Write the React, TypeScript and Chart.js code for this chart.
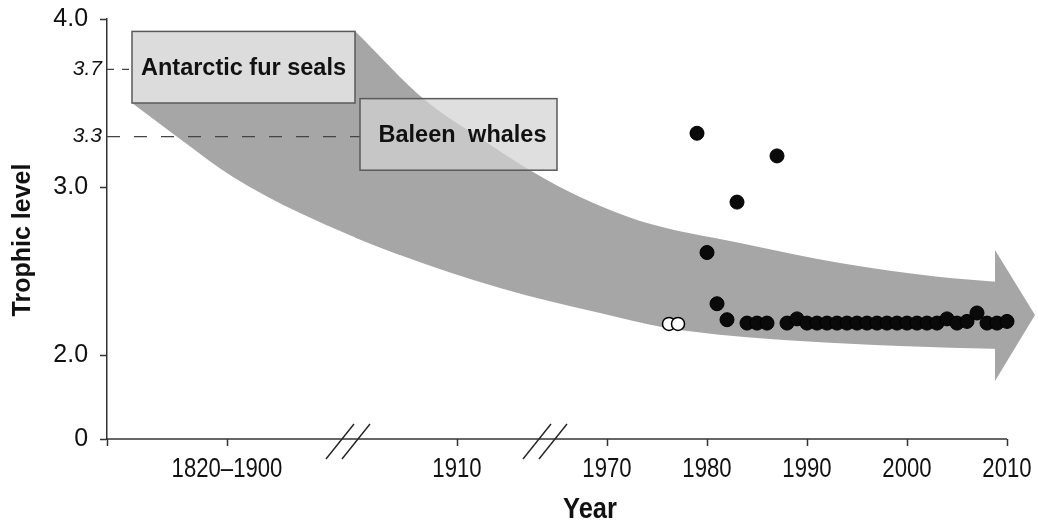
import React, { useEffect, useRef } from "react";
import { Chart, registerables } from "chart.js";

Chart.register(...registerables);

// ---------- data ----------
const filledYears = [
  1979, 1980, 1981, 1982, 1983, 1984, 1985, 1986, 1987, 1988, 1989,
  1990, 1991, 1992, 1993, 1994, 1995, 1996, 1997, 1998, 1999,
  2000, 2001, 2002, 2003, 2004, 2005, 2006, 2007, 2008, 2009, 2010,
];
const filledTrophic = [
  3.32, 2.61, 2.305, 2.21, 2.91, 2.19, 2.19, 2.19, 3.185, 2.19, 2.215,
  2.19, 2.19, 2.19, 2.19, 2.19, 2.19, 2.19, 2.19, 2.19, 2.19,
  2.19, 2.19, 2.19, 2.19, 2.215, 2.19, 2.2, 2.25, 2.19, 2.19, 2.2,
];
const openYears = [1976.2, 1977.1];
const openTrophic = [2.185, 2.185];

// axis (x in compressed "display years"; y below 2.0 is compressed)
const xTickValues = [1920, 1932, 1955, 1970, 1980, 1990, 2000, 2010];
const xTickLabels = ["", "1820–1900", "1910", "1970", "1980", "1990", "2000", "2010"];
const xBreakValues = [1944.1, 1963.8];
const yTickValues = [1.5, 2, 3, 3.3, 3.7, 4];
const yTickLabels = ["0", "2.0", "3.0", "3.3", "3.7", "4.0"];
const yItalicLevels = [3.3, 3.7];

// groups (labelled boxes)
const groupNames = ["Antarctic fur seals", "Baleen whales"];
const groupLevels = [3.7, 3.3];

// shaded arrow outline
const arrowUpperX = [1944.8, 1951.8, 1957.3, 1962.6, 1967.3, 1973.3, 1983.3, 1993.3, 2003.3, 2009.5];
const arrowUpperY = [3.929, 3.518, 3.292, 3.089, 2.94, 2.798, 2.667, 2.548, 2.464, 2.433];
const arrowLowerX = [1922.5, 1927.3, 1932.6, 1939.3, 1949.3, 1959.3, 1969.3, 1976.0, 1989.3, 1999.3, 2009.5];
const arrowLowerY = [3.5, 3.286, 3.06, 2.845, 2.595, 2.399, 2.25, 2.161, 2.083, 2.054, 2.036];
const arrowBackX = [1922.5, 1949.3];
const arrowBackY = [3.55, 3.55];
const arrowHeadX = [2008.8, 2012.8];
const arrowHeadTopY = [2.625, 2.238];
const arrowHeadBottomY = [1.845, 2.238];

// ---------- layout / style (not data) ----------
const boxLayout = [
  { from: 1922.5, to: 1944.8, fill: "#dcdcdc" },
  { from: 1945.3, to: 1965.0, fill: "rgba(210,210,210,0.72)" },
];
const FONT = '"Liberation Sans", Arial, Helvetica, sans-serif';
const ARROW = "#a6a6a6";
const AXIS = "#333333";
const NARROW_SCALE = 0.82;

const pts = (xs: number[], ys: number[]) => xs.map((x, i) => ({ x, y: ys[i] }));
const isItalic = (v: number) => yItalicLevels.some((l) => Math.abs(l - v) < 1e-6);

const decorPlugin = {
  id: "decor",
  afterDatasetsDraw(chart: any) {
    const { ctx, scales } = chart;
    const x = scales.x;
    const y = scales.y;
    ctx.save();
    groupNames.forEach((name, i) => {
      const b = boxLayout[i];
      const l = x.getPixelForValue(b.from);
      const r = x.getPixelForValue(b.to);
      const t = y.getPixelForValue(groupLevels[i] + 0.226);
      const btm = y.getPixelForValue(groupLevels[i] - 0.2);
      ctx.fillStyle = b.fill;
      ctx.fillRect(l, t, r - l, btm - t);
      ctx.strokeStyle = "#5a5a5a";
      ctx.lineWidth = 1.5;
      ctx.strokeRect(l, t, r - l, btm - t);
      ctx.fillStyle = "#111";
      ctx.font = `bold 23.5px ${FONT}`;
      ctx.textAlign = "center";
      ctx.textBaseline = "middle";
      try {
        (ctx as any).wordSpacing = i === 1 ? "6px" : "0px";
      } catch (e) {}
      ctx.fillText(name, (l + r) / 2 + (i === 1 ? 4 : 0), (t + btm) / 2 + 1);
      try {
        (ctx as any).wordSpacing = "0px";
      } catch (e) {}
    });
    ctx.restore();
  },
  afterDraw(chart: any) {
    const { ctx, scales } = chart;
    const x = scales.x;
    const y = scales.y;
    const cy = y.getPixelForValue(1.5);
    ctx.save();
    // axis breaks
    ctx.strokeStyle = "#222";
    ctx.lineWidth = 1.4;
    xBreakValues.forEach((v) => {
      const cx = x.getPixelForValue(v);
      [-8, 8].forEach((o) => {
        ctx.beginPath();
        ctx.moveTo(cx + o - 14, cy + 20);
        ctx.lineTo(cx + o + 14, cy - 15);
        ctx.stroke();
      });
    });
    // x tick labels (narrow face imitated by horizontal scaling)
    ctx.fillStyle = "#111";
    ctx.textAlign = "center";
    ctx.textBaseline = "middle";
    xTickValues.forEach((v, i) => {
      const label = xTickLabels[i];
      if (!label) return;
      ctx.save();
      ctx.translate(x.getPixelForValue(v), cy + 31);
      ctx.scale(NARROW_SCALE, 1);
      ctx.font = `27px ${FONT}`;
      ctx.fillText(label, 0, 0);
      ctx.restore();
    });
    // axis titles
    ctx.save();
    ctx.translate(590, 510);
    ctx.scale(0.85, 1);
    ctx.font = `bold 30px ${FONT}`;
    ctx.fillText("Year", 0, 0);
    ctx.restore();
    ctx.translate(23, 240);
    ctx.rotate(-Math.PI / 2);
    ctx.font = `bold 25px ${FONT}`;
    ctx.fillText("Trophic level", 0, 0);
    ctx.restore();
  },
};

export default function App() {
  const ref = useRef<HTMLCanvasElement>(null);
  useEffect(() => {
    if (!ref.current) return;
    const hidden = { pointRadius: 0, borderWidth: 1, borderColor: "rgba(0,0,0,0)", backgroundColor: ARROW };
    const chart = new Chart(ref.current, {
      type: "line",
      data: {
        datasets: [
          {
            label: "filled",
            data: pts(filledYears, filledTrophic),
            showLine: false,
            pointRadius: 7,
            pointBackgroundColor: "#0a0a0a",
            pointBorderColor: "#000",
            pointBorderWidth: 1,
          },
          {
            label: "open",
            data: pts(openYears, openTrophic),
            showLine: false,
            pointRadius: 6.5,
            pointBackgroundColor: "#ffffff",
            pointBorderColor: "#000",
            pointBorderWidth: 1.5,
          },
          {
            label: "dash37",
            data: [
              { x: 1920, y: groupLevels[0] },
              { x: boxLayout[0].from, y: groupLevels[0] },
            ],
            borderColor: "#444",
            borderWidth: 1.2,
            borderDash: [7, 8],
            pointRadius: 0,
            fill: false,
          },
          {
            label: "dash33",
            data: [
              { x: 1920, y: groupLevels[1] },
              { x: boxLayout[1].from, y: groupLevels[1] },
            ],
            borderColor: "#444",
            borderWidth: 1.2,
            borderDash: [13, 14],
            pointRadius: 0,
            fill: false,
          },
          {
            label: "xaxis",
            data: [
              { x: 1920, y: 1.5 },
              { x: 2010, y: 1.5 },
            ],
            borderColor: AXIS,
            borderWidth: 1.5,
            pointRadius: 0,
            fill: false,
            clip: false,
          } as any,
          {
            label: "arrowUpper",
            data: pts(arrowUpperX, arrowUpperY),
            cubicInterpolationMode: "monotone",
            fill: "+1",
            ...hidden,
          },
          {
            label: "arrowLower",
            data: pts(arrowLowerX, arrowLowerY),
            cubicInterpolationMode: "monotone",
            fill: false,
            ...hidden,
          },
          {
            label: "arrowBack",
            data: pts(arrowBackX, arrowBackY),
            tension: 0,
            fill: "-1",
            ...hidden,
          },
          {
            label: "headTop",
            data: pts(arrowHeadX, arrowHeadTopY),
            tension: 0,
            fill: "+1",
            ...hidden,
          },
          {
            label: "headBottom",
            data: pts(arrowHeadX, arrowHeadBottomY),
            tension: 0,
            fill: false,
            ...hidden,
          },
        ],
      },
      options: {
        animation: false,
        responsive: false,
        events: [],
        layout: { autoPadding: false, padding: { top: 19, right: 1, left: 0, bottom: 0 } },
        plugins: { legend: { display: false }, tooltip: { enabled: false } },
        scales: {
          x: {
            type: "linear",
            min: 1920,
            max: 2013,
            afterBuildTicks: (s: any) => {
              s.ticks = xTickValues.map((v) => ({ value: v }));
            },
            afterFit: (s: any) => {
              s.height = 85;
            },
            border: { display: false },
            grid: {
              drawOnChartArea: false,
              drawTicks: true,
              tickLength: 7,
              tickWidth: 1.5,
              tickColor: AXIS,
            },
            ticks: { display: false, autoSkip: false, maxRotation: 0 },
          },
          y: {
            type: "linear",
            min: 1.5,
            max: 4,
            afterBuildTicks: (s: any) => {
              s.ticks = yTickValues.map((v) => ({ value: v }));
            },
            afterFit: (s: any) => {
              s.width = 107;
            },
            border: { display: true, color: AXIS, width: 1.5 },
            grid: {
              drawOnChartArea: false,
              drawTicks: true,
              tickLength: 7,
              tickWidth: 1.5,
              tickColor: (c: any) => (c.tick && isItalic(c.tick.value) ? "rgba(0,0,0,0)" : AXIS),
            },
            ticks: {
              padding: -2,
              color: "#111",
              font: (c: any) =>
                c.tick && isItalic(c.tick.value)
                  ? { family: FONT, size: 21, style: "italic" }
                  : { family: FONT, size: 25 },
              callback: (v: any) => {
                const i = yTickValues.findIndex((t) => Math.abs(t - Number(v)) < 1e-6);
                if (i < 0) return "";
                return isItalic(yTickValues[i]) ? yTickLabels[i] : yTickLabels[i] + "  ";
              },
            },
          },
        },
      },
      plugins: [decorPlugin],
    } as any);
    return () => chart.destroy();
  }, []);
  return (
    <div style={{ position: "absolute", left: 0, top: 0, width: 1038, height: 524, background: "#fff" }}>
      <canvas ref={ref} width={1038} height={524} style={{ display: "block" }} />
    </div>
  );
}
